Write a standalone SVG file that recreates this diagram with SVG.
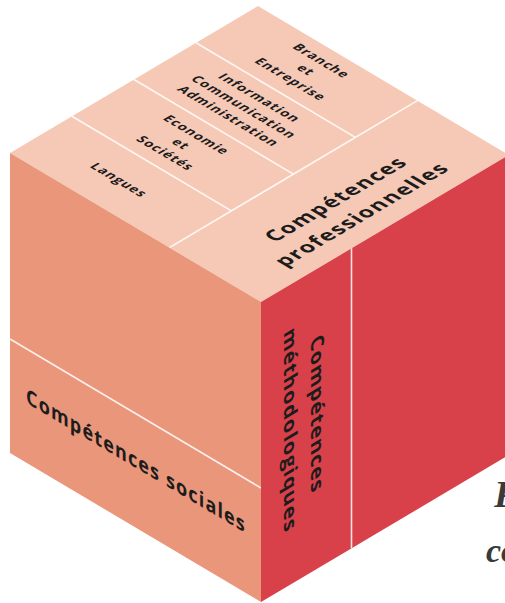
<svg xmlns="http://www.w3.org/2000/svg" width="505" height="603" viewBox="0 0 505 603">
  <style>
    .top { fill: #F6C9B6; }
    .left { fill: #E9967B; }
    .right { fill: #D8414A; }
    .rule { stroke: #ffffff; stroke-width: 1.6; stroke-opacity: 0.85; fill: none; }
    .big { font-family: "Open Sans", "Liberation Sans", sans-serif; font-weight: 700; font-size: 21px; letter-spacing: 1.3px; fill: #1c1c1c; text-anchor: middle; }
    .small { font-family: "Open Sans", "Liberation Sans", sans-serif; font-weight: 700; font-size: 13px; letter-spacing: 1px; fill: #1c1c1c; text-anchor: middle; }
    .cap { font-family: "Liberation Serif", serif; font-style: italic; font-weight: bold; fill: #3a3a3a; }
  </style>

  <!-- cube faces -->
  <g id="face-top">
    <polygon class="top" points="258,6 509,155 261,302 10,153"/>
    <!-- band along the front-right edge -->
    <line class="rule" x1="169.4" y1="247.6" x2="417.4" y2="100.6"/>
    <!-- four strips in the back part -->
    <line class="rule" x1="231.4" y1="210.9" x2="72" y2="116.3"/>
    <line class="rule" x1="293.4" y1="174.1" x2="134" y2="79.5"/>
    <line class="rule" x1="355.4" y1="137.4" x2="196" y2="42.8"/>
  </g>
  <g id="face-left">
    <polygon class="left" points="10,153 261,302 261,602 10,453"/>
    <line class="rule" x1="10" y1="339" x2="261" y2="488"/>
  </g>
  <g id="face-right">
    <polygon class="right" points="261,302 509,155 509,455 261,602"/>
    <line class="rule" x1="351.5" y1="248.3" x2="351.5" y2="548.3"/>
  </g>

  <!-- labels on the top face strips -->
  <g id="langues" transform="matrix(0.86 0.51 -0.86 0.51 119 180)">
    <text class="small" x="0" y="4.5">Langues</text>
  </g>
  <g id="economie" transform="matrix(0.86 0.51 -0.86 0.51 181 144)">
    <text class="small"><tspan x="0" y="-13.5">Economie</tspan><tspan x="0" y="4.5">et</tspan><tspan x="0" y="22.5">Sociétés</tspan></text>
  </g>
  <g id="information" transform="matrix(0.86 0.51 -0.86 0.51 244 107)">
    <text class="small"><tspan x="0" y="-13.5">Information</tspan><tspan x="0" y="4.5">Communication</tspan><tspan x="0" y="22.5">Administration</tspan></text>
  </g>
  <g id="branche" transform="matrix(0.86 0.51 -0.86 0.51 306 70)">
    <text class="small"><tspan x="0" y="-13.5">Branche</tspan><tspan x="0" y="4.5">et</tspan><tspan x="0" y="22.5">Entreprise</tspan></text>
  </g>

  <!-- main labels -->
  <g id="professionnelles" transform="matrix(0.86 -0.51 0.86 0.51 349 207)">
    <text class="big"><tspan x="0" y="-8">Compétences</tspan><tspan x="0" y="22">professionnelles</tspan></text>
  </g>
  <g id="sociales" transform="matrix(0.86 0.51 0 1 136 468)">
    <text class="big" x="0" y="0">Compétences sociales</text>
  </g>
  <g id="methodologiques" transform="matrix(0 1 -0.86 0.51 303.5 422)">
    <text class="big"><tspan x="0" y="-9">Compétences</tspan><tspan x="0" y="23">méthodologiques</tspan></text>
  </g>

  <!-- caption running off the right edge -->
  <g id="caption">
    <text class="cap" x="494" y="507" font-size="38">P</text>
    <text class="cap" x="486" y="562" font-size="34">co</text>
  </g>
</svg>
